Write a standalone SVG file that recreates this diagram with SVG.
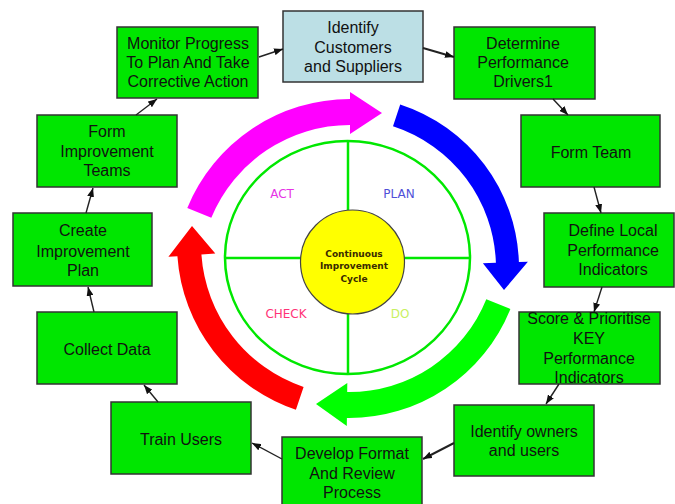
<svg xmlns="http://www.w3.org/2000/svg" width="675" height="504" viewBox="0 0 675 504">
  <defs>
    <marker id="arrow" markerWidth="9" markerHeight="7" refX="9" refY="3.5" orient="auto" markerUnits="userSpaceOnUse">
      <path d="M0,0 L9,3.5 L0,7 z" fill="#111"/>
    </marker>
    <style>
      .box { fill: #00e600; stroke: #333; stroke-width: 1.5; }
      .box.start { fill: #bcdfe5; }
      .lbl { font-family: "Liberation Sans", Arial, sans-serif; font-size: 16px; fill: #111; text-anchor: middle; }
      .edge { fill: none; stroke: #222; stroke-width: 1.4; marker-end: url(#arrow); }
      .ring { fill: none; stroke: #00e800; stroke-width: 2.5; }
      .phase { font-family: "DejaVu Sans", sans-serif; font-size: 12px; text-anchor: middle; }
      .core { font-family: "DejaVu Sans", sans-serif; font-size: 9px; font-weight: bold; fill: #3a2a00; text-anchor: middle; }
    </style>
  </defs>
  <rect width="675" height="504" fill="#fff"/>

  <!-- PDCA wheel -->
  <g id="wheel">
    <ellipse class="ring" cx="347.5" cy="257.5" rx="122.5" ry="116.5"/>
    <line class="ring" x1="348" y1="141" x2="348" y2="210"/>
    <line class="ring" x1="348" y1="314" x2="348" y2="374"/>
    <line class="ring" x1="225" y1="258" x2="302" y2="258"/>
    <line class="ring" x1="402" y1="258" x2="470" y2="258"/>
    <text class="phase" x="282" y="198" fill="#e633e6">ACT</text>
    <text class="phase" x="399" y="198" fill="#5050d8">PLAN</text>
    <text class="phase" x="286" y="318" fill="#ff3377">CHECK</text>
    <text class="phase" x="400" y="318" fill="#c8f060">DO</text>
  </g>

  <g id="hub">
    <circle cx="352.5" cy="262" r="52" fill="#ffff00" stroke="#444" stroke-width="1.2"/>
    <text class="core" x="354" y="256.5">Continuous</text>
    <text class="core" x="354" y="269">Improvement</text>
    <text class="core" x="354" y="282">Cycle</text>
  </g>

  <!-- curved phase arrows -->
  <g id="cycle-arrows">
    <path d="M187.3,207.9 A176,176 0 0 1 350,99 L350,92 L382,113 L350,134 L350,125 A150,150 0 0 0 211.3,217.8 Z" fill="#ff00ff"/>
    <path d="M400.2,104.4 A172,172 0 0 1 518.9,262 L527.9,261.7 L504,290 L482.9,263.3 L495.9,262.8 A149,149 0 0 0 393,126.3 Z" fill="#0000ff"/>
    <path d="M510.4,308.9 A174,174 0 0 1 346.9,418 L346.8,426 L316,404 L347.3,383 L347.2,392 A148,148 0 0 0 486.3,299.2 Z" fill="#00ff00"/>
    <path d="M295.9,409.8 A175,175 0 0 1 177.4,256.2 L168.4,256.8 L192,226 L215.3,253.6 L201.4,254.5 A151,151 0 0 0 303.6,387 Z" fill="#ff0000"/>
  </g>

  <!-- process steps -->
  <g id="identify-customers">
    <rect class="box start" x="283" y="11" width="140" height="71"/>
    <text class="lbl" x="353" y="33">Identify</text>
    <text class="lbl" x="353" y="53">Customers</text>
    <text class="lbl" x="353" y="72">and Suppliers</text>
  </g>
  <g id="determine-drivers">
    <rect class="box" x="454" y="27" width="141" height="72"/>
    <text class="lbl" x="523" y="49">Determine</text>
    <text class="lbl" x="523" y="68">Performance</text>
    <text class="lbl" x="523" y="87">Drivers1</text>
  </g>
  <g id="form-team">
    <rect class="box" x="521" y="115" width="139" height="72"/>
    <text class="lbl" x="591" y="158">Form Team</text>
  </g>
  <g id="define-indicators">
    <rect class="box" x="544" y="213" width="130" height="74"/>
    <text class="lbl" x="613" y="236">Define Local</text>
    <text class="lbl" x="613" y="256">Performance</text>
    <text class="lbl" x="613" y="275">Indicators</text>
  </g>
  <g id="score-prioritise">
    <rect class="box" x="519" y="312" width="141" height="72"/>
    <text class="lbl" x="589" y="324">Score &amp; Prioritise</text>
    <text class="lbl" x="589" y="344">KEY</text>
    <text class="lbl" x="589" y="364">Performance</text>
    <text class="lbl" x="589" y="383">Indicators</text>
  </g>
  <g id="identify-owners">
    <rect class="box" x="454" y="405" width="140" height="71"/>
    <text class="lbl" x="524" y="437">Identify owners</text>
    <text class="lbl" x="524" y="456">and users</text>
  </g>
  <g id="develop-format">
    <rect class="box" x="282" y="437" width="140" height="72"/>
    <text class="lbl" x="352" y="459">Develop Format</text>
    <text class="lbl" x="352" y="479">And Review</text>
    <text class="lbl" x="352" y="498">Process</text>
  </g>
  <g id="train-users">
    <rect class="box" x="111" y="402" width="140" height="72"/>
    <text class="lbl" x="181" y="445">Train Users</text>
  </g>
  <g id="collect-data">
    <rect class="box" x="37" y="312" width="140" height="72"/>
    <text class="lbl" x="107" y="355">Collect Data</text>
  </g>
  <g id="create-plan">
    <rect class="box" x="13" y="213" width="139" height="73"/>
    <text class="lbl" x="83" y="236">Create</text>
    <text class="lbl" x="83" y="257">Improvement</text>
    <text class="lbl" x="83" y="276">Plan</text>
  </g>
  <g id="form-improvement-teams">
    <rect class="box" x="37" y="115" width="140" height="72"/>
    <text class="lbl" x="107" y="137">Form</text>
    <text class="lbl" x="107" y="157">Improvement</text>
    <text class="lbl" x="107" y="176">Teams</text>
  </g>
  <g id="monitor-progress">
    <rect class="box" x="117" y="27" width="141" height="71"/>
    <text class="lbl" x="188" y="49">Monitor Progress</text>
    <text class="lbl" x="188" y="68">To Plan And Take</text>
    <text class="lbl" x="188" y="87">Corrective Action</text>
  </g>

  <!-- step-to-step connectors -->
  <g id="connectors">
    <line class="edge" x1="259" y1="57" x2="283" y2="49"/>
    <line class="edge" x1="423" y1="48" x2="454" y2="57" style="stroke-width:2"/>
    <line class="edge" x1="553" y1="99" x2="568" y2="115"/>
    <line class="edge" x1="594" y1="187" x2="601" y2="213"/>
    <line class="edge" x1="602" y1="287" x2="594" y2="312"/>
    <line class="edge" x1="559" y1="384" x2="546" y2="404"/>
    <line class="edge" x1="454" y1="443" x2="423" y2="459" style="stroke-width:2"/>
    <line class="edge" x1="282" y1="459" x2="252" y2="443"/>
    <line class="edge" x1="158" y1="402" x2="144" y2="385"/>
    <line class="edge" x1="94" y1="312" x2="88" y2="287"/>
    <line class="edge" x1="86" y1="213" x2="93" y2="188"/>
    <line class="edge" x1="136" y1="115" x2="157" y2="99"/>
  </g>
</svg>
